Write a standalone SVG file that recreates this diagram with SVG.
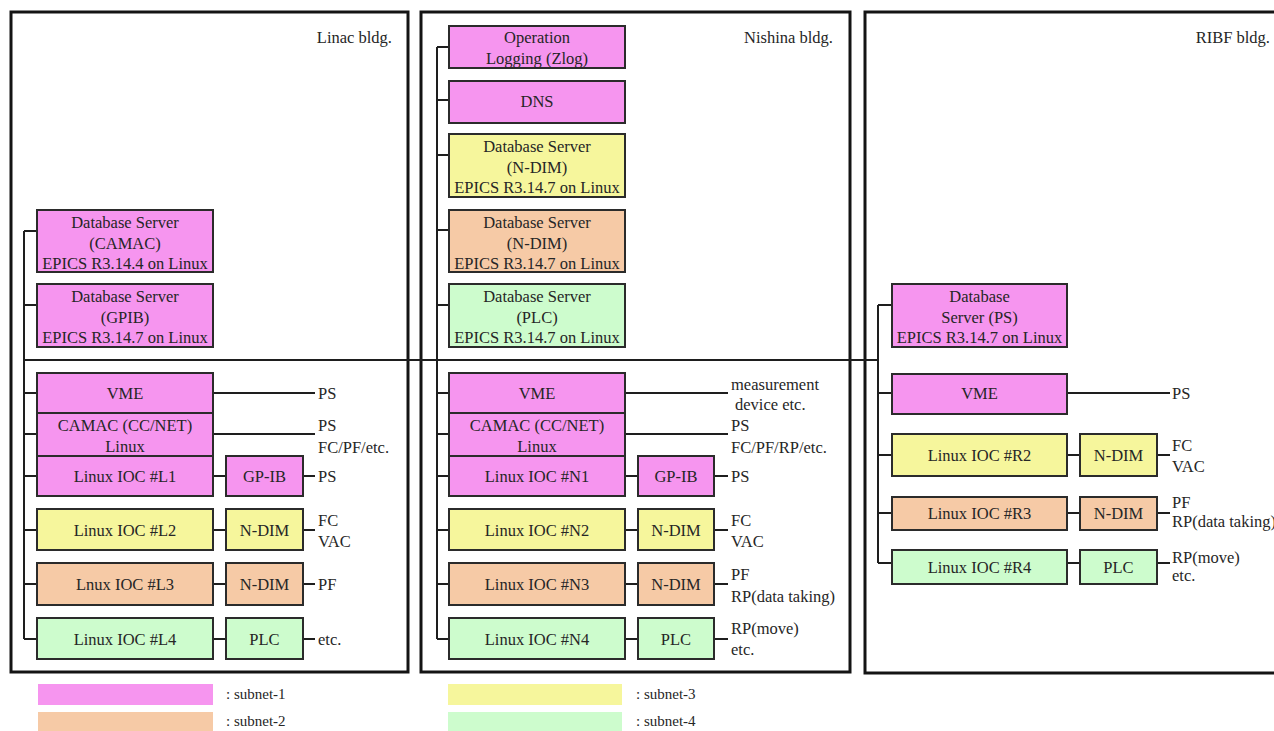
<svg xmlns="http://www.w3.org/2000/svg" width="1274" height="731" viewBox="0 0 1274 731">
<style>
.bld{fill:none;stroke:#141414;stroke-width:3}
.n{stroke:#2b2b2b;stroke-width:2}
.s1{fill:#f695ef}
.s2{fill:#f6caa6}
.s3{fill:#f6f69c}
.s4{fill:#cdfccd}
.c{stroke:#1e1e1e;stroke-width:2;fill:none}
text{font-family:"Liberation Serif","Times New Roman",serif;font-size:16.5px;fill:#262626}
.m{text-anchor:middle}
.e{text-anchor:end}
.lg{font-size:15px}
</style>
<rect width="1274" height="731" fill="#ffffff"/>
<g id="buildings">
<rect class="bld" x="11" y="12" width="397" height="660"/>
<rect class="bld" x="421" y="12" width="429" height="660"/>
<rect class="bld" x="865" y="12" width="420" height="661"/>
<text class="e" x="392" y="43">Linac bldg.</text>
<text class="e" x="833" y="43">Nishina bldg.</text>
<text class="e" x="1270" y="43">RIBF bldg.</text>
</g>
<g id="connectors">
<path class="c" d="M24,360H878"/>
<path class="c" d="M24,231V639M24,231H37M24,305H37M24,393H37M24,434H37M24,476H37M24,530H37M24,584H37M24,639H37"/>
<path class="c" d="M213,393H315M213,434H315M213,476H226M303,476H315M213,530H226M303,530H315M213,584H226M303,584H315M213,639H226M303,639H315"/>
<path class="c" d="M437,47V639M437,47H449M437,100H449M437,155H449M437,230H449M437,305H449M437,393H449M437,434H449M437,476H449M437,530H449M437,584H449M437,639H449"/>
<path class="c" d="M625,393H728M625,434H728M625,476H638M714,476H728M625,530H638M714,530H728M625,584H638M714,584H728M625,639H638M714,639H728"/>
<path class="c" d="M878,305V563M878,305H892M878,393H892M878,455H892M878,513H892M878,563H892"/>
<path class="c" d="M1067,393H1170M1067,455H1080M1157,455H1170M1067,513H1080M1157,513H1170M1067,563H1080M1157,563H1170"/>
</g>
<g id="linac-db-camac"><rect class="n s1" x="37" y="210" width="176" height="62"/><text class="m" x="125" y="228">Database Server</text><text class="m" x="125" y="249">(CAMAC)</text><text class="m" x="125" y="269">EPICS R3.14.4 on Linux</text></g>
<g id="linac-db-gpib"><rect class="n s1" x="37" y="284" width="176" height="63"/><text class="m" x="125" y="302">Database Server</text><text class="m" x="125" y="323">(GPIB)</text><text class="m" x="125" y="343">EPICS R3.14.7 on Linux</text></g>
<g id="linac-vme"><rect class="n s1" x="37" y="373" width="176" height="40"/><text class="m" x="125" y="398.5">VME</text></g>
<g id="linac-camac"><rect class="n s1" x="37" y="413" width="176" height="43"/><text class="m" x="125" y="430.5">CAMAC (CC/NET)</text><text class="m" x="125" y="451.5">Linux</text></g>
<g id="linac-l1"><rect class="n s1" x="37" y="456" width="176" height="40"/><text class="m" x="125" y="481.5">Linux IOC #L1</text></g>
<g id="linac-gpib"><rect class="n s1" x="226" y="456" width="77" height="40"/><text class="m" x="264.5" y="481.5">GP-IB</text></g>
<g id="linac-l2"><rect class="n s3" x="37" y="509" width="176" height="41"/><text class="m" x="125" y="535.5">Linux IOC #L2</text></g>
<g id="linac-ndim2"><rect class="n s3" x="226" y="509" width="77" height="41"/><text class="m" x="264.5" y="535.5">N-DIM</text></g>
<g id="linac-l3"><rect class="n s2" x="37" y="563" width="176" height="42"/><text class="m" x="125" y="589.5">Lnux IOC #L3</text></g>
<g id="linac-ndim3"><rect class="n s2" x="226" y="563" width="77" height="42"/><text class="m" x="264.5" y="589.5">N-DIM</text></g>
<g id="linac-l4"><rect class="n s4" x="37" y="618" width="176" height="41"/><text class="m" x="125" y="644.5">Linux IOC #L4</text></g>
<g id="linac-plc"><rect class="n s4" x="226" y="618" width="77" height="41"/><text class="m" x="264.5" y="644.5">PLC</text></g>
<g id="linac-labels">
<text x="318" y="398.5">PS</text><text x="318" y="430.5">PS</text><text x="318" y="452.5">FC/PF/etc.</text><text x="318" y="481.5">PS</text>
<text x="318" y="525.5">FC</text><text x="318" y="546.5">VAC</text><text x="318" y="589.5">PF</text><text x="318" y="644.5">etc.</text>
</g>
<g id="nishina-zlog"><rect class="n s1" x="449" y="26" width="176" height="42"/><text class="m" x="537" y="42.5">Operation</text><text class="m" x="537" y="63.5">Logging (Zlog)</text></g>
<g id="nishina-dns"><rect class="n s1" x="449" y="81" width="176" height="42"/><text class="m" x="537" y="107">DNS</text></g>
<g id="nishina-db-ndim1"><rect class="n s3" x="449" y="134" width="176" height="63"/><text class="m" x="537" y="152">Database Server</text><text class="m" x="537" y="173">(N-DIM)</text><text class="m" x="537" y="193">EPICS R3.14.7 on Linux</text></g>
<g id="nishina-db-ndim2"><rect class="n s2" x="449" y="210" width="176" height="62"/><text class="m" x="537" y="228">Database Server</text><text class="m" x="537" y="249">(N-DIM)</text><text class="m" x="537" y="269">EPICS R3.14.7 on Linux</text></g>
<g id="nishina-db-plc"><rect class="n s4" x="449" y="284" width="176" height="63"/><text class="m" x="537" y="302">Database Server</text><text class="m" x="537" y="323">(PLC)</text><text class="m" x="537" y="343">EPICS R3.14.7 on Linux</text></g>
<g id="nishina-vme"><rect class="n s1" x="449" y="373" width="176" height="40"/><text class="m" x="537" y="398.5">VME</text></g>
<g id="nishina-camac"><rect class="n s1" x="449" y="413" width="176" height="43"/><text class="m" x="537" y="430.5">CAMAC (CC/NET)</text><text class="m" x="537" y="451.5">Linux</text></g>
<g id="nishina-n1"><rect class="n s1" x="449" y="456" width="176" height="40"/><text class="m" x="537" y="481.5">Linux IOC #N1</text></g>
<g id="nishina-gpib"><rect class="n s1" x="638" y="456" width="76" height="40"/><text class="m" x="676" y="481.5">GP-IB</text></g>
<g id="nishina-n2"><rect class="n s3" x="449" y="509" width="176" height="41"/><text class="m" x="537" y="535.5">Linux IOC #N2</text></g>
<g id="nishina-ndim2"><rect class="n s3" x="638" y="509" width="76" height="41"/><text class="m" x="676" y="535.5">N-DIM</text></g>
<g id="nishina-n3"><rect class="n s2" x="449" y="563" width="176" height="42"/><text class="m" x="537" y="589.5">Linux IOC #N3</text></g>
<g id="nishina-ndim3"><rect class="n s2" x="638" y="563" width="76" height="42"/><text class="m" x="676" y="589.5">N-DIM</text></g>
<g id="nishina-n4"><rect class="n s4" x="449" y="618" width="176" height="41"/><text class="m" x="537" y="644.5">Linux IOC #N4</text></g>
<g id="nishina-plc"><rect class="n s4" x="638" y="618" width="76" height="41"/><text class="m" x="676" y="644.5">PLC</text></g>
<g id="nishina-labels">
<text x="731" y="389.5">measurement</text><text x="735" y="409.5">device etc.</text>
<text x="731" y="430.5">PS</text><text x="731" y="452.5">FC/PF/RP/etc.</text><text x="731" y="481.5">PS</text>
<text x="731" y="525.5">FC</text><text x="731" y="546.5">VAC</text>
<text x="731" y="579.5">PF</text><text x="731" y="601.5">RP(data taking)</text>
<text x="731" y="633.5">RP(move)</text><text x="731" y="654.5">etc.</text>
</g>
<g id="ribf-db-ps"><rect class="n s1" x="892" y="284" width="175" height="63"/><text class="m" x="979.5" y="302">Database</text><text class="m" x="979.5" y="323">Server (PS)</text><text class="m" x="979.5" y="343">EPICS R3.14.7 on Linux</text></g>
<g id="ribf-vme"><rect class="n s1" x="892" y="374" width="175" height="40"/><text class="m" x="979.5" y="399">VME</text></g>
<g id="ribf-r2"><rect class="n s3" x="892" y="434" width="175" height="42"/><text class="m" x="979.5" y="460.5">Linux IOC #R2</text></g>
<g id="ribf-ndim2"><rect class="n s3" x="1080" y="434" width="77" height="42"/><text class="m" x="1118.5" y="460.5">N-DIM</text></g>
<g id="ribf-r3"><rect class="n s2" x="892" y="497" width="175" height="33"/><text class="m" x="979.5" y="518.5">Linux IOC #R3</text></g>
<g id="ribf-ndim3"><rect class="n s2" x="1080" y="497" width="77" height="33"/><text class="m" x="1118.5" y="518.5">N-DIM</text></g>
<g id="ribf-r4"><rect class="n s4" x="892" y="550" width="175" height="34"/><text class="m" x="979.5" y="572.5">Linux IOC #R4</text></g>
<g id="ribf-plc"><rect class="n s4" x="1080" y="550" width="77" height="34"/><text class="m" x="1118.5" y="572.5">PLC</text></g>
<g id="ribf-labels">
<text x="1172" y="398.5">PS</text>
<text x="1172" y="450.5">FC</text><text x="1172" y="471.5">VAC</text>
<text x="1172" y="507.5">PF</text><text x="1172" y="526.5">RP(data taking)</text>
<text x="1172" y="562.5">RP(move)</text><text x="1172" y="580.5">etc.</text>
</g>
<g id="legend">
<rect class="s1" x="38" y="684" width="175" height="21"/>
<rect class="s2" x="38" y="712" width="175" height="21"/>
<rect class="s3" x="448" y="684" width="174" height="21"/>
<rect class="s4" x="448" y="712" width="174" height="21"/>
<text class="lg" x="226" y="699">: subnet-1</text>
<text class="lg" x="226" y="726">: subnet-2</text>
<text class="lg" x="636" y="699">: subnet-3</text>
<text class="lg" x="636" y="726">: subnet-4</text>
</g>
</svg>
